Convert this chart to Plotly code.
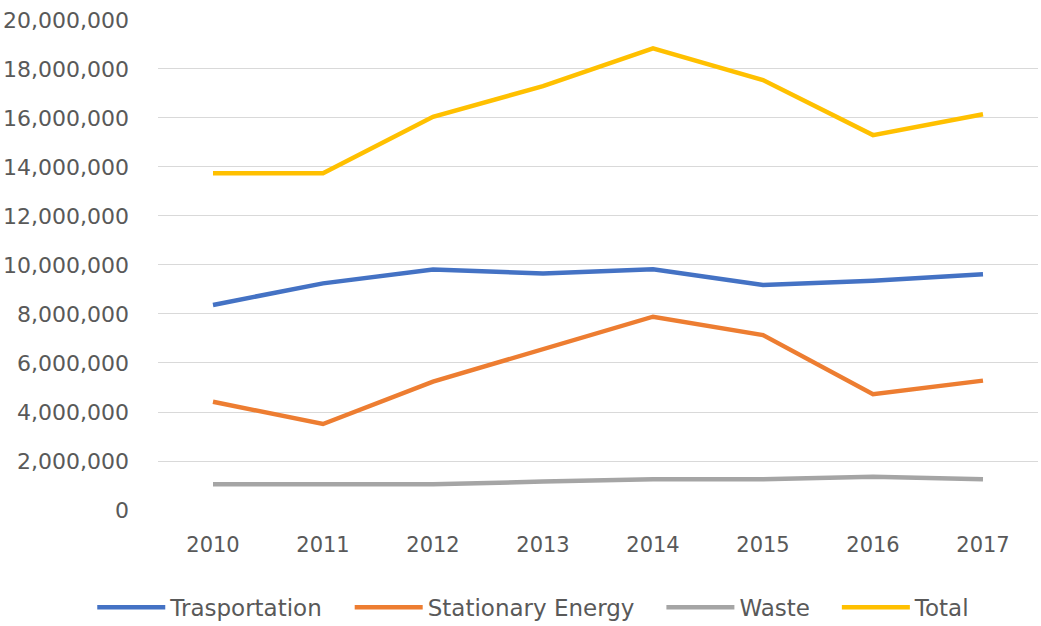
import plotly.graph_objects as go

years = ["2010", "2011", "2012", "2013", "2014", "2015", "2016", "2017"]
transportation = [8370000, 9250000, 9820000, 9650000, 9830000, 9180000, 9360000, 9620000]
stationary_energy = [4420000, 3510000, 5240000, 6570000, 7890000, 7140000, 4730000, 5280000]
waste = [1050000, 1050000, 1050000, 1160000, 1250000, 1250000, 1360000, 1250000]
total = [13740000, 13740000, 16050000, 17300000, 18840000, 17550000, 15300000, 16150000]

series = [
    ("Trasportation", transportation, "#4472C4"),
    ("Stationary Energy", stationary_energy, "#ED7D31"),
    ("Waste", waste, "#A5A5A5"),
    ("Total", total, "#FFC000"),
]

pad = "\u00a0\u00a0\u00a0"

fig = go.Figure()
for i, (name, vals, color) in enumerate(series):
    label = name + (pad if i < len(series) - 1 else "")
    fig.add_trace(go.Scatter(x=years, y=vals, name=label, mode="lines",
                             line=dict(color=color, width=4.5)))

font_family = "DejaVu Sans"
text_color = "#595959"

fig.update_layout(
    width=1041, height=626,
    margin=dict(l=158, r=3, t=19, b=116, autoexpand=False),
    paper_bgcolor="white", plot_bgcolor="white",
    font=dict(family=font_family, size=21, color=text_color),
    showlegend=True,
    legend=dict(orientation="h", x=0.427, xanchor="center", y=-0.198, yanchor="middle",
                font=dict(family=font_family, size=23, color=text_color),
                itemwidth=68, traceorder="normal"),
    xaxis=dict(type="category", range=[-0.5, 7.5], showgrid=False, zeroline=False,
               showline=False, ticks="", ticklabelstandoff=20, automargin=False,
               tickfont=dict(size=21, color=text_color)),
    yaxis=dict(range=[0, 20040000], dtick=2000000, tickformat=",d",
               showgrid=True, gridcolor="#D9D9D9", gridwidth=1.3, automargin=False,
               zeroline=False, showline=False, ticks="", ticklabelstandoff=28,
               ticklabeloverflow="allow",
               tickfont=dict(size=22, color=text_color)),
)

# remove the browser's default 8px body margin so the figure fills the window
fig.write_html("out.html", config={"displayModeBar": False},
               post_script="document.body.style.margin='0';")
